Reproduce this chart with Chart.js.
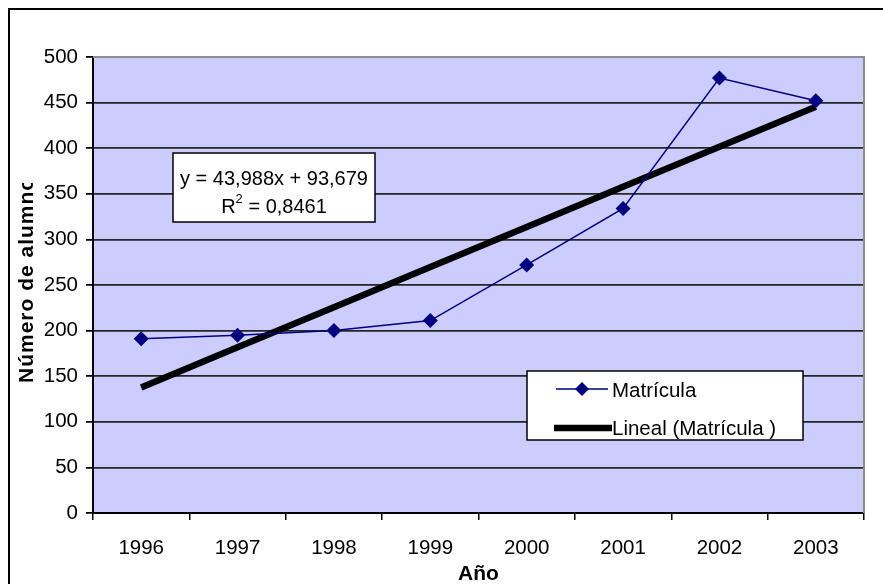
<!DOCTYPE html>
<html>
<head>
<meta charset="utf-8">
<script src="https://cdn.jsdelivr.net/npm/chart.js@4/dist/chart.umd.min.js"></script>
<style>
  html, body { margin: 0; padding: 0; background: #fff; }
  canvas { display: block; }
</style>
</head>
<body>
<canvas id="chart" width="883" height="584"></canvas>
<script>
// Enrolment per year
const years = ['1996', '1997', '1998', '1999', '2000', '2001', '2002', '2003'];
const matricula = [191, 195, 200, 211, 272, 334, 477, 452];

// Linear trend line as stated in its label
const SLOPE = 43.988;
const INTERCEPT = 93.679;
const R2 = 0.8461;

const seriesLabel = 'Matrícula';
const trendLabel = 'Lineal (Matrícula )';
const xTitle = 'Año';
const yTitle = 'Número de alumnos';

const Y_MIN = 0, Y_MAX = 500, Y_STEP = 50;

const trend = years.map((_, i) => SLOPE * (i + 1) + INTERCEPT);

const FONT = '"Liberation Sans", Arial, sans-serif';
const fmt = (v, d) => v.toFixed(d).replace('.', ',');

const framePlugin = {
  id: 'frame',
  beforeDraw(chart) {
    const { ctx, chartArea: a } = chart;
    ctx.save();
    ctx.fillStyle = '#ffffff';
    ctx.fillRect(0, 0, chart.width, chart.height);
    ctx.fillStyle = '#CCCCFF';
    ctx.fillRect(a.left, a.top, a.right - a.left, a.bottom - a.top);
    // outer chart border
    ctx.strokeStyle = '#000';
    ctx.lineWidth = 2;
    ctx.strokeRect(9, 9, 1000, 1000);
    ctx.restore();
  },
  afterDraw(chart) {
    const { ctx, chartArea: a } = chart;
    ctx.save();

    // plot area top / right edges
    ctx.strokeStyle = '#8c8c8c';
    ctx.lineWidth = 2;
    ctx.beginPath();
    ctx.moveTo(a.left, a.top);
    ctx.lineTo(a.right, a.top);
    ctx.lineTo(a.right, a.bottom);
    ctx.stroke();

    // axis titles
    ctx.fillStyle = '#000';
    ctx.font = 'bold 21px ' + FONT;
    ctx.textAlign = 'center';
    ctx.textBaseline = 'alphabetic';
    ctx.fillText(xTitle, (a.left + a.right) / 2, 580);

    ctx.save();
    ctx.beginPath();
    ctx.rect(0, 183, 80, 400);
    ctx.clip();
    ctx.translate(33, 383);
    ctx.rotate(-Math.PI / 2);
    ctx.textAlign = 'left';
    if ('letterSpacing' in ctx) ctx.letterSpacing = '1px';
    ctx.fillText(yTitle, 0, 0);
    ctx.restore();

    // regression equation box
    ctx.fillStyle = '#fff';
    ctx.fillRect(173, 153, 202, 69);
    ctx.strokeStyle = '#000';
    ctx.lineWidth = 1.5;
    ctx.strokeRect(173, 153, 202, 69);
    ctx.fillStyle = '#000';
    ctx.font = '20px ' + FONT;
    ctx.textAlign = 'center';
    ctx.fillText('y = ' + fmt(SLOPE, 3) + 'x + ' + fmt(INTERCEPT, 3), 274, 185);
    const rest = ' = ' + fmt(R2, 4);
    ctx.font = '20px ' + FONT;
    const wR = ctx.measureText('R').width;
    const wRest = ctx.measureText(rest).width;
    ctx.font = '13px ' + FONT;
    const wSup = ctx.measureText('2').width;
    let x0 = 274 - (wR + wSup + wRest) / 2;
    ctx.textAlign = 'left';
    ctx.font = '20px ' + FONT;
    ctx.fillText('R', x0, 213);
    ctx.font = '13px ' + FONT;
    ctx.fillText('2', x0 + wR, 203);
    ctx.font = '20px ' + FONT;
    ctx.fillText(rest, x0 + wR + wSup, 213);

    // legend
    const ds = chart.data.datasets;
    ctx.fillStyle = '#fff';
    ctx.fillRect(527, 371, 276, 69);
    ctx.strokeStyle = '#000';
    ctx.lineWidth = 1.5;
    ctx.strokeRect(527, 371, 276, 69);

    ctx.strokeStyle = ds[0].borderColor;
    ctx.lineWidth = ds[0].borderWidth;
    ctx.beginPath();
    ctx.moveTo(556, 389);
    ctx.lineTo(608, 389);
    ctx.stroke();
    ctx.fillStyle = ds[0].pointBackgroundColor;
    ctx.beginPath();
    ctx.moveTo(582, 382);
    ctx.lineTo(589, 389);
    ctx.lineTo(582, 396);
    ctx.lineTo(575, 389);
    ctx.closePath();
    ctx.fill();

    ctx.strokeStyle = ds[1].borderColor;
    ctx.lineWidth = ds[1].borderWidth;
    ctx.beginPath();
    ctx.moveTo(554, 428);
    ctx.lineTo(612, 428);
    ctx.stroke();

    ctx.fillStyle = '#000';
    ctx.font = '20.5px ' + FONT;
    ctx.textAlign = 'left';
    ctx.fillText(ds[0].label, 612, 397);
    ctx.fillText(ds[1].label, 612, 435);

    ctx.restore();
  }
};

new Chart(document.getElementById('chart'), {
  type: 'line',
  data: {
    labels: years,
    datasets: [
      {
        label: seriesLabel,
        data: matricula,
        borderColor: '#000080',
        backgroundColor: '#000080',
        pointBackgroundColor: '#000080',
        pointBorderColor: '#000080',
        borderWidth: 1.5,
        pointStyle: 'rectRot',
        pointRadius: 7.5,
        pointBorderWidth: 0,
        tension: 0,
        order: 1
      },
      {
        label: trendLabel,
        data: trend,
        borderColor: '#000000',
        backgroundColor: '#000000',
        borderWidth: 6.5,
        pointRadius: 0,
        tension: 0,
        order: 2
      }
    ]
  },
  options: {
    responsive: false,
    animation: false,
    devicePixelRatio: 1,
    layout: { padding: { top: 57, right: 19, left: 0, bottom: 0 } },
    plugins: {
      legend: { display: false },
      tooltip: { enabled: false },
      title: { display: false }
    },
    scales: {
      x: {
        offset: true,
        afterFit(s) { s.height = 71; },
        grid: {
          offset: true,
          drawOnChartArea: false,
          drawTicks: true,
          tickLength: 7,
          color: '#000',
          lineWidth: 1.5
        },
        border: { display: true, color: '#000', width: 2 },
        ticks: {
          color: '#000',
          font: { family: FONT, size: 20.5 },
          padding: 16,
          maxRotation: 0,
          autoSkip: false
        }
      },
      y: {
        min: Y_MIN,
        max: Y_MAX,
        afterFit(s) { s.width = 93; },
        grid: {
          color: '#262626',
          lineWidth: 1.75,
          drawTicks: true,
          tickLength: 7,
          tickColor: '#000'
        },
        border: { display: true, color: '#000', width: 2 },
        ticks: {
          stepSize: Y_STEP,
          color: '#000',
          font: { family: FONT, size: 20.5 },
          padding: 8
        }
      }
    }
  },
  plugins: [framePlugin]
});
</script>
</body>
</html>
